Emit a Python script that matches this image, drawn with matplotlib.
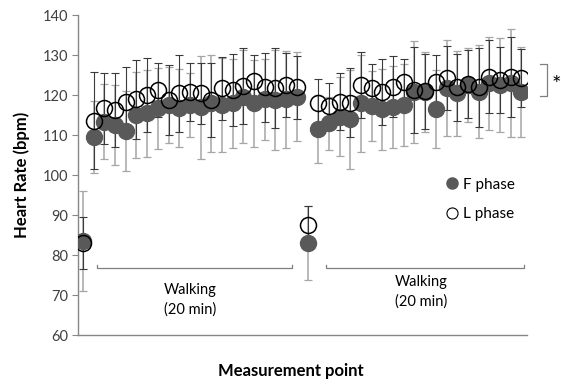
import matplotlib.pyplot as plt, numpy as np
from matplotlib.lines import Line2D

plt.rcParams['font.family'] = ['Lato', 'DejaVu Sans']

# 0 = rest, 1-20 = walking, 21 = rest, 22-41 = walking
f_phase = [83.5, 109.4, 113.3, 112.5, 111.0, 115.0, 115.4, 116.7, 117.5, 116.7, 117.5,
           116.9, 117.9, 117.5, 117.9, 119.6, 117.9, 118.9, 118.75, 118.9, 119.6,
           83.0, 111.4, 112.9, 114.6, 113.9, 117.9, 117.25, 116.4, 117.0, 117.5, 120.8,
           120.8, 116.5, 121.7, 120.4, 122.5, 120.8, 122.9, 122.5, 122.9, 120.8]
l_phase = [83.0, 113.6, 116.7, 116.25, 118.3, 118.9, 120.0, 121.25, 118.75, 120.4, 120.7,
           120.4, 118.75, 121.7, 121.25, 122.25, 123.6, 121.9, 121.7, 122.5, 121.9,
           87.5, 118.1, 117.25, 118.3, 118.1, 122.5, 121.7, 120.8, 122.1, 123.3, 121.25,
           120.9, 123.3, 124.2, 121.9, 122.75, 121.9, 124.6, 123.75, 124.6, 124.2]
f_sd = [12.5, 9.0, 9.4, 10.0, 10.0, 10.8, 10.9, 10.1, 9.4, 9.7, 7.9,
        12.9, 12.1, 11.7, 11.2, 11.6, 10.9, 10.15, 12.5, 12.2, 11.1,
        9.25, 8.5, 6.65, 9.85, 12.3, 12.2, 8.85, 10.15, 10.3, 10.2, 12.8,
        10.0, 9.8, 11.95, 10.65, 9.2, 11.6, 11.65, 11.7, 13.5, 11.2]
l_sd = [6.5, 12.2, 8.9, 9.35, 8.6, 9.9, 9.3, 6.65, 8.65, 9.6, 7.2,
        7.6, 9.15, 7.9, 9.0, 9.45, 6.4, 8.7, 10.0, 8.1, 7.9,
        4.75, 5.8, 5.65, 7.1, 8.6, 8.3, 6.0, 8.3, 7.6, 5.8, 10.85,
        9.35, 6.7, 8.0, 8.35, 8.5, 9.8, 9.15, 8.15, 10.0, 7.2]
walk_spans = [(1.3, 19.5), (22.7, 41.2)]
walk_label = "Walking\n(20 min)"
yticks = [60, 70, 80, 90, 100, 110, 120, 130, 140]

x = np.arange(len(f_phase))
fig = plt.figure(figsize=(5.61, 3.86), dpi=100)
ax = fig.add_axes([0.139, 0.132, 0.8, 0.829])

ax.errorbar(x, f_phase, yerr=f_sd, fmt='none', ecolor='#a6a6a6', elinewidth=1.1,
            capsize=3, capthick=0.9, zorder=2)
ax.errorbar(x, l_phase, yerr=l_sd, fmt='none', ecolor='#3a3a3a', elinewidth=0.8,
            capsize=3, capthick=0.8, zorder=2)
ax.plot(x, f_phase, 'o', ms=11.5, color='#595959', mec='#595959', ls='none', zorder=3)
ax.plot(x, l_phase, 'o', ms=11.5, mfc='none', mec='black', mew=1.1, ls='none', zorder=4)

# walking brackets
for (a, b), (tx, ty) in zip(walk_spans, [(10.0, 68.75), (31.6, 70.75)]):
    ax.plot([a, a, b, b], [77.6, 76.8, 76.8, 77.6], color='#7f7f7f', lw=0.9)
    ax.text(tx, ty, walk_label, ha='center', va='center', fontsize=10.5, linespacing=1.45)

# significance bracket
ax.plot([42.7, 43.4, 43.4, 42.7], [127.75, 127.75, 119.75, 119.75], color='#7f7f7f',
        lw=0.9, clip_on=False)
ax.text(44.3, 122.6, '*', ha='center', va='center', fontsize=16)

ax.set_xlim(-0.47, 41.5)
ax.set_ylim(60, 140)
ax.set_yticks(yticks)
ax.set_xticks([])
ax.tick_params(axis='y', direction='out', length=4, color='#868686', labelsize=10.5,
               labelcolor='#404040', pad=3)
for s in ['top', 'right']:
    ax.spines[s].set_visible(False)
for s in ['left', 'bottom']:
    ax.spines[s].set_color('#868686')
    ax.spines[s].set_linewidth(1.0)

ax.set_ylabel('Heart Rate (bpm)', fontsize=12, fontweight='bold')
ax.yaxis.set_label_coords(-0.108, 0.5)
ax.set_xlabel('Measurement point', fontsize=12, fontweight='bold')
ax.xaxis.set_label_coords(0.475, -0.088)

handles = [Line2D([], [], marker='o', ls='none', ms=8, color='#595959'),
           Line2D([], [], marker='o', ls='none', ms=8, mfc='white', mec='black', mew=0.8)]
ax.legend(handles, ['F phase', 'L phase'], loc='upper left', bbox_to_anchor=(0.79, 0.535),
          frameon=False, fontsize=11, handlelength=0.8, handletextpad=0.3, labelspacing=1.0)

fig.savefig('out.png', dpi=100)
